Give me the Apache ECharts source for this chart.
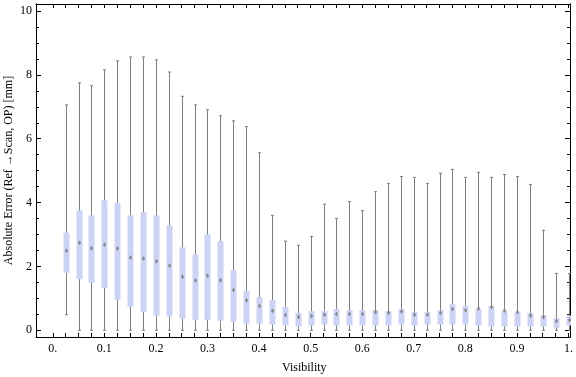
<!DOCTYPE html>
<html>
<head>
<meta charset="utf-8">
<script src="https://cdn.jsdelivr.net/npm/echarts@6.0.0/dist/echarts.min.js"></script>
<style>
  body { margin: 0; background: #fff; }
  #chart { width: 576px; height: 377px; }
</style>
</head>
<body>
<div id="chart"></div>
<script>
// box positions (visibility) and the five numbers of each box
const visibility = [0.025, 0.05, 0.075, 0.1, 0.125, 0.15, 0.175, 0.2, 0.225, 0.25,
  0.275, 0.3, 0.325, 0.35, 0.375, 0.4, 0.425, 0.45, 0.475, 0.5,
  0.525, 0.55, 0.575, 0.6, 0.625, 0.65, 0.675, 0.7, 0.725, 0.75,
  0.775, 0.8, 0.825, 0.85, 0.875, 0.9, 0.925, 0.95, 0.975, 1.0];
const whiskerLow = [0.49, 0, 0, 0, 0, 0, 0, 0, 0, 0,
  0, 0, 0, 0, 0, 0, 0, 0, 0, 0,
  0, 0, 0, 0, 0, 0, 0, 0, 0, 0,
  0, 0, 0, 0, 0, 0, 0, 0, 0, 0];
const q1 = [1.80, 1.60, 1.49, 1.33, 0.96, 0.74, 0.58, 0.46, 0.43, 0.36,
  0.33, 0.33, 0.30, 0.27, 0.21, 0.21, 0.18, 0.15, 0.12, 0.15,
  0.18, 0.15, 0.15, 0.15, 0.15, 0.15, 0.18, 0.15, 0.18, 0.18,
  0.18, 0.18, 0.15, 0.12, 0.12, 0.12, 0.12, 0.12, 0.08, 0.15];
const median = [2.49, 2.74, 2.57, 2.68, 2.56, 2.28, 2.25, 2.16, 2.02, 1.68,
  1.56, 1.71, 1.57, 1.26, 0.93, 0.76, 0.61, 0.48, 0.42, 0.45,
  0.49, 0.51, 0.51, 0.51, 0.57, 0.55, 0.59, 0.49, 0.49, 0.55,
  0.67, 0.63, 0.68, 0.73, 0.62, 0.57, 0.46, 0.42, 0.29, 0.32];
const q3 = [3.06, 3.76, 3.60, 4.07, 4.00, 3.60, 3.70, 3.60, 3.29, 2.60,
  2.38, 3.01, 2.79, 1.88, 1.23, 1.04, 0.95, 0.73, 0.54, 0.60,
  0.60, 0.67, 0.63, 0.63, 0.63, 0.60, 0.67, 0.57, 0.57, 0.63,
  0.82, 0.76, 0.67, 0.76, 0.62, 0.57, 0.54, 0.48, 0.38, 0.46];
const whiskerHigh = [7.06, 7.75, 7.66, 8.16, 8.44, 8.56, 8.56, 8.47, 8.09, 7.33,
  7.06, 6.91, 6.72, 6.56, 6.38, 5.56, 3.60, 2.79, 2.66, 2.94,
  3.95, 3.50, 4.03, 3.75, 4.34, 4.60, 4.82, 4.79, 4.60, 4.92,
  5.04, 4.79, 4.95, 4.79, 4.88, 4.82, 4.57, 3.13, 1.78, 1.78];

// tick labels
const xLabels = [0, 0.1, 0.2, 0.3, 0.4, 0.5, 0.6, 0.7, 0.8, 0.9, 1];
const yLabels = [0, 2, 4, 6, 8, 10];

// minor ticks
let xTicks = [];
for (let i = 0; i <= 40; i++) xTicks.push(+(i * 0.025).toFixed(3));
let yMinor = [];
for (let i = 0; i <= 20; i++) yMinor.push(i * 0.5);

const font = "'Liberation Serif', 'DejaVu Serif', serif";
const frame = { show: true, onZero: false, lineStyle: { color: "#000", width: 1 } };

function xFmt(v) {
  if (v === 0) return "0.";
  if (v === 1) return "1.";
  return v.toFixed(1);
}

function yAxisOf(pos, values, len, labels) {
  return {
    type: "value",
    position: pos,
    min: -0.21,
    max: 10.22,
    axisLine: frame,
    splitLine: { show: false },
    axisTick: {
      show: true,
      inside: true,
      length: len,
      customValues: values,
      lineStyle: { color: "#000" },
    },
    axisLabel: {
      show: labels,
      customValues: yLabels,
      margin: 4,
      color: "#000",
      fontFamily: font,
      fontSize: 12,
    },
  };
}

function xAxisOf(pos, labels) {
  return {
    type: "value",
    position: pos,
    min: -0.0325,
    max: 1.003,
    axisLine: frame,
    splitLine: { show: false },
    axisTick: {
      show: true,
      inside: true,
      length: 4,
      customValues: xTicks,
      lineStyle: { color: "#000" },
    },
    axisLabel: {
      show: labels,
      customValues: xLabels,
      formatter: xFmt,
      margin: 6,
      color: "#000",
      fontFamily: font,
      fontSize: 12,
    },
  };
}

const boxData = visibility.map((v, i) => [v, whiskerLow[i], q1[i], median[i], q3[i], whiskerHigh[i]]);

function renderBox(params, api) {
  const x = api.value(0);
  const pLow = api.coord([x, api.value(1)]);
  const pQ1 = api.coord([x, api.value(2)]);
  const pMed = api.coord([x, api.value(3)]);
  const pQ3 = api.coord([x, api.value(4)]);
  const pHigh = api.coord([x, api.value(5)]);
  const cx = Math.round(pLow[0]) + 0.5;
  const whisk = { stroke: "#7f7f7f", lineWidth: 1 };
  return {
    type: "group",
    children: [
      { type: "line", shape: { x1: cx, y1: pLow[1], x2: cx, y2: pHigh[1] }, style: whisk },
      { type: "line", shape: { x1: cx - 1.5, y1: pHigh[1], x2: cx + 1.5, y2: pHigh[1] }, style: whisk },
      { type: "line", shape: { x1: cx - 1.5, y1: pLow[1], x2: cx + 1.5, y2: pLow[1] }, style: whisk },
      {
        type: "rect",
        shape: { x: cx - 3, y: pQ3[1], width: 6, height: pQ1[1] - pQ3[1] },
        style: { fill: "#ccd3f5" },
      },
      {
        type: "polygon",
        shape: { points: [[cx, pMed[1] - 2.5], [cx + 1.5, pMed[1]], [cx, pMed[1] + 2.5], [cx - 1.5, pMed[1]]] },
        style: { fill: "#858585" },
      },
    ],
  };
}

const chart = echarts.init(document.getElementById("chart"), null, { renderer: "canvas" });
chart.setOption({
  animation: false,
  backgroundColor: "#fff",
  grid: { left: 36, right: 3, top: 4, bottom: 40 },
  xAxis: [xAxisOf("bottom", true), xAxisOf("top", false)],
  yAxis: [
    yAxisOf("left", yLabels, 5, true),
    yAxisOf("left", yMinor, 3, false),
    yAxisOf("right", yLabels, 5, false),
    yAxisOf("right", yMinor, 3, false),
  ],
  graphic: [
    {
      type: "text",
      left: 282,
      top: 362,
      style: { text: "Visibility", font: "12px " + font, fill: "#000" },
    },
    {
      type: "text",
      x: 9,
      y: 170.5,
      rotation: Math.PI / 2,
      style: {
        text: "Absolute Error (Ref \u2192Scan, OP) [mm]",
        font: "12px " + font,
        fill: "#000",
        align: "center",
        verticalAlign: "middle",
      },
    },
  ],
  series: [
    {
      type: "custom",
      clip: true,
      renderItem: renderBox,
      encode: { x: 0, y: [1, 2, 3, 4, 5] },
      data: boxData,
    },
  ],
});
</script>
</body>
</html>
